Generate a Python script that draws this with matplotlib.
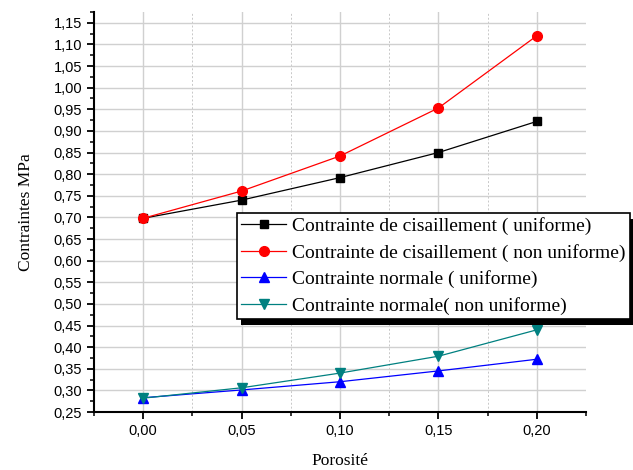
import numpy as np
import matplotlib.pyplot as plt
from matplotlib.patches import Rectangle
from matplotlib.ticker import MultipleLocator, FuncFormatter

## Data
porosite = [0.00, 0.05, 0.10, 0.15, 0.20]
cis_uniforme = [0.698, 0.740, 0.792, 0.850, 0.922]
cis_non_uniforme = [0.698, 0.761, 0.842, 0.953, 1.120]
norm_uniforme = [0.283, 0.301, 0.320, 0.345, 0.372]
norm_non_uniforme = [0.282, 0.306, 0.340, 0.379, 0.440]

labels = ['Contrainte de cisaillement ( uniforme)',
          'Contrainte de cisaillement ( non uniforme)',
          'Contrainte normale ( uniforme)',
          'Contrainte normale( non uniforme)']

serif = 'Liberation Serif'
sans = 'Liberation Sans'

fig = plt.figure(figsize=(6.33, 4.70), dpi=100)
ax = fig.add_axes([94/633, 58/470, (586-94)/633, (412-12)/470])

ax.plot(porosite, cis_uniforme, color='black', marker='s', ms=6, lw=0.9, label=labels[0])
ax.plot(porosite, cis_non_uniforme, color='red', marker='o', ms=7, lw=0.9, label=labels[1])
ax.plot(porosite, norm_uniforme, color='blue', marker='^', ms=7, lw=0.9, label=labels[2])
ax.plot(porosite, norm_non_uniforme, color='#008080', marker='v', ms=7, lw=0.9, label=labels[3])

ax.set_xlim(-0.025, 0.225)
ax.set_ylim(0.25, 1.175)
ax.xaxis.set_major_locator(MultipleLocator(0.05))
ax.xaxis.set_minor_locator(MultipleLocator(0.025))
ax.yaxis.set_major_locator(MultipleLocator(0.05))
ax.yaxis.set_minor_locator(MultipleLocator(0.025))
fmt = FuncFormatter(lambda v, p: f'{v:.2f}'.replace('.', ','))
ax.xaxis.set_major_formatter(fmt)
ax.yaxis.set_major_formatter(fmt)

ax.grid(True, which='major', color='#d0d0d0', lw=1.0)
ax.grid(True, which='minor', axis='x', color='#c8c8c8', lw=0.7, ls=(0, (2, 2)))
ax.set_axisbelow(True)

for s in ['top', 'right']:
    ax.spines[s].set_visible(False)
for s in ['left', 'bottom']:
    ax.spines[s].set_linewidth(1.5)

ax.tick_params(which='major', direction='out', length=5, width=1.3, labelsize=10.5)
ax.tick_params(which='minor', direction='out', length=3, width=1.1)
for lab in ax.get_xticklabels() + ax.get_yticklabels():
    lab.set_family(sans)

ax.set_xlabel('Porosité', family=serif, fontsize=12.5, labelpad=11)
ax.set_ylabel('Contraintes MPa', family=serif, fontsize=12.5, labelpad=14)

leg = ax.legend(loc='upper left', bbox_to_anchor=(237/633, 1-213/470),
                bbox_transform=fig.transFigure, borderaxespad=0,
                prop={'family': serif, 'size': 14}, fancybox=False,
                framealpha=1, edgecolor='black', handlelength=2.3,
                handletextpad=0.3, labelspacing=0.44, borderpad=0.22)
leg.get_frame().set_linewidth(1.2)
leg.set_zorder(10)

# shadow drawn by hand, offset down and right like the original
fig.canvas.draw()
bb = leg.get_window_extent()
shadow = Rectangle((bb.x0 + 4, bb.y0 - 6), bb.width, bb.height,
                   transform=None, facecolor='black', edgecolor='none',
                   clip_on=False, zorder=9)
ax.add_patch(shadow)

fig.savefig('out.png', dpi=100)
